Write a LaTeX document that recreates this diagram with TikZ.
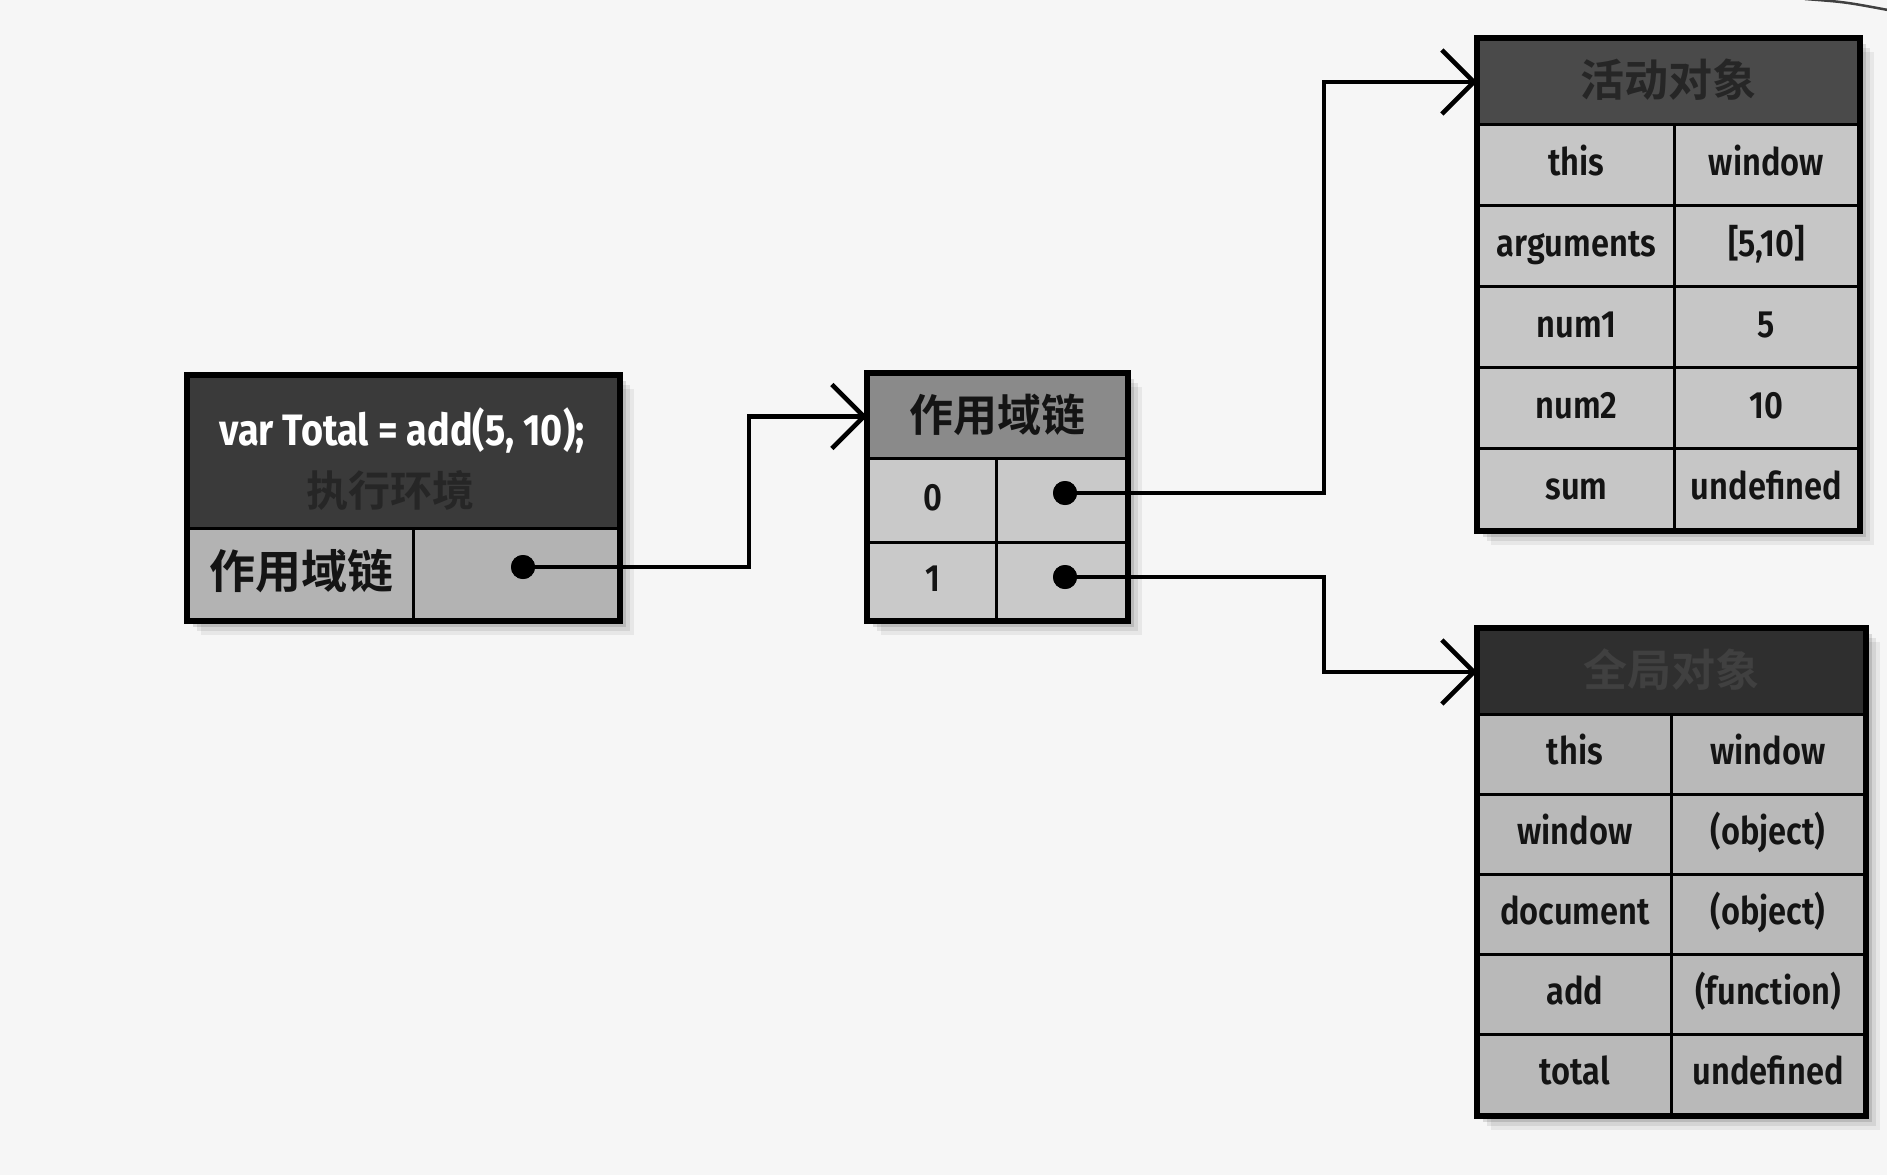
\documentclass[tikz,border=0pt]{standalone}
\usepackage{fontspec}
\setmainfont{Fira Sans}[FakeStretch=0.86, UprightFont=* SemiBold, BoldFont=* Bold]
\newfontfamily\cjk{Noto Sans CJK SC}[BoldFont=* Bold]
\usetikzlibrary{arrows.meta,calc}
\pgfdeclarelayer{bg}
\pgfsetlayers{bg,main}
\definecolor{pagebg}{HTML}{F6F6F6}
\definecolor{echead}{HTML}{3A3A3A}
\definecolor{ectext}{HTML}{262626}
\definecolor{aohead}{HTML}{4A4A4A}
\definecolor{aotext}{HTML}{262626}
\definecolor{gohead}{HTML}{2F2F2F}
\definecolor{gotext}{HTML}{404040}
\definecolor{schead}{HTML}{8A8A8A}
\definecolor{aocell}{HTML}{C6C6C6}
\definecolor{gocell}{HTML}{B9B9B9}
\definecolor{eccell}{HTML}{B3B3B3}
\definecolor{sccell}{HTML}{C9C9C9}
\definecolor{celltext}{HTML}{141414}
\newcommand\myshadow[2]{%
  \foreach \s/\o in {14/0.06,10/0.08,6/0.12}{%
    \fill[black,opacity=\o] ($(#1)+(\s,\s)$) rectangle ($(#2)+(\s,\s)$);}}
\tikzset{
  cell/.style={draw=black, line width=3pt, anchor=north west, inner sep=0pt,
    text=celltext, font=\fontsize{38}{40}\selectfont, text height=27pt, text depth=7pt},
  cjkcell/.style={cell, font=\cjk\bfseries\fontsize{44}{46}\selectfont, text height=34pt, text depth=5pt},
  outer/.style={draw=black, line width=6pt, line join=miter},
  conn/.style={draw=black, line width=4.5pt,
    -{Straight Barb[length=32pt,width=64pt,line width=4.5pt]}},
  dotc/.style={circle, fill=black, inner sep=0pt, minimum size=24pt}
}
\begin{document}
\begin{tikzpicture}[x=1pt,y=-1pt]
\useasboundingbox (0,0) rectangle (1887,1175);
% execution context
\node[cell, fill=echead, minimum width=430pt, minimum height=152pt] (ech) at (187,375) {};
\node[font=\bfseries\fontsize{44}{46}\selectfont, text=white, inner sep=0pt] (ectitle) at (402,430) {var Total = add(5, 10);};
\node[font=\cjk\bfseries\fontsize{42}{44}\selectfont, text=ectext, inner sep=0pt] (eclabel) at (390,490) {执行环境};
\node[cjkcell, fill=eccell, minimum width=225pt, minimum height=91pt, font=\cjk\bfseries\fontsize{46}{48}\selectfont] (eck) at (187,527) {作用域链};
\node[cell, fill=eccell, minimum width=205pt, minimum height=91pt] (ecv) at (412,527) {};
% scope chain
\node[cjkcell, fill=schead, minimum width=258pt, minimum height=84pt] (sch) at (867,373) {作用域链};
\node[cell, fill=sccell, minimum width=128pt, minimum height=84pt] (sc0k) at (867,457) {0};
\node[cell, fill=sccell, minimum width=130pt, minimum height=84pt] (sc0v) at (995,457) {};
\node[cell, fill=sccell, minimum width=128pt, minimum height=77pt] (sc1k) at (867,541) {1};
\node[cell, fill=sccell, minimum width=130pt, minimum height=77pt] (sc1v) at (995,541) {};
% activation object
\node[cjkcell, fill=aohead, text=aotext, minimum width=380pt, minimum height=85pt] (aoh) at (1477,38) {活动对象};
\foreach \k/\v/\y [count=\i] in {this/window/123, arguments/{[5,10]}/204, num1/5/285, num2/10/366, sum/undefined/447}{
  \node[cell, fill=aocell, minimum width=196pt, minimum height=81pt] (aok\i) at (1477,\y) {\k};
  \node[cell, fill=aocell, minimum width=184pt, minimum height=81pt] (aov\i) at (1673,\y) {\v};
}
% global object
\node[cjkcell, fill=gohead, text=gotext, minimum width=386pt, minimum height=85pt] (goh) at (1477,628) {全局对象};
\foreach \k/\v/\y [count=\i] in {this/window/713, window/(object)/793, document/(object)/873, add/(function)/953, total/undefined/1033}{
  \node[cell, fill=gocell, minimum width=193pt, minimum height=80pt] (gok\i) at (1477,\y) {\k};
  \node[cell, fill=gocell, minimum width=193pt, minimum height=80pt] (gov\i) at (1670,\y) {\v};
}
% outer borders
\draw[outer] (ech.north west) rectangle (ecv.south east);
\draw[outer] (sch.north west) rectangle (sc1v.south east);
\draw[outer] (aoh.north west) rectangle (aov5.south east);
\draw[outer] (goh.north west) rectangle (gov5.south east);
% dots
\node[dotc] (ecd) at (523,567) {};
\node[dotc] (sc0d) at (1065,493) {};
\node[dotc] (sc1d) at (1065,577) {};
% connectors
\coordinate (j1) at (749,0);
\coordinate (j2) at (1324,0);
\draw[conn] (ecd.center) -- (ecd.center -| j1) |- (sch.west);
\draw[conn] (sc0d.center) -- (sc0d.center -| j2) |- (aoh.west);
\draw[conn] (sc1d.center) -- (sc1d.center -| j2) |- (goh.west);
\node[dotc] at (ecd) {};
\node[dotc] at (sc0d) {};
\node[dotc] at (sc1d) {};
% background and shadows
\begin{pgfonlayer}{bg}
\fill[pagebg] (0,0) rectangle (1887,1175);
\myshadow{ech.north west}{ecv.south east}
\myshadow{sch.north west}{sc1v.south east}
\myshadow{aoh.north west}{aov5.south east}
\myshadow{goh.north west}{gov5.south east}
\draw[line width=2.5pt, black!75] (1805,-1) .. controls (1845,2) .. (1888,10);
\end{pgfonlayer}
\end{tikzpicture}
\end{document}
